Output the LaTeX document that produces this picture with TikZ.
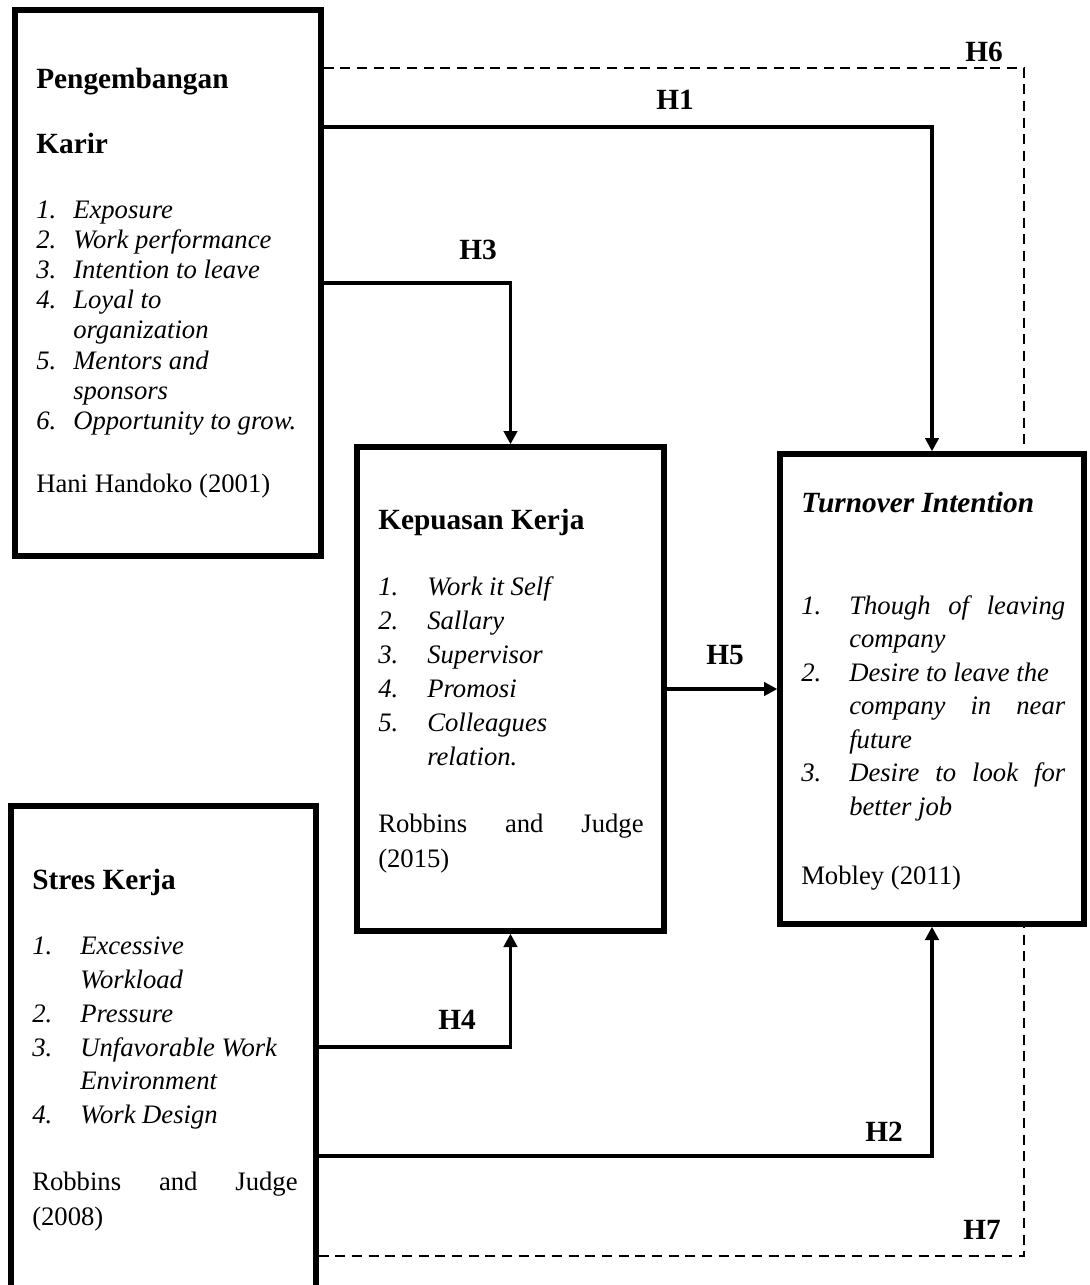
\documentclass[tikz,border=0pt]{standalone}
\usepackage{fontspec}
\setmainfont{Liberation Serif}
\usetikzlibrary{arrows.meta, positioning, calc}

% number box and hanging indent for the indicator lists
\newcommand{\itm}[2][36pt]{\makebox[#1][l]{#2}}
\newcommand{\cont}[1][36pt]{\hspace*{#1}}

\begin{document}
\begin{tikzpicture}[x=0.75pt, y=-0.75pt, >={Triangle[length=10pt, width=10pt]},
    frame/.style={draw, line width=4pt, inner sep=0pt},
    link/.style={line width=2.5pt},
    dashlink/.style={line width=1.9pt, dash pattern=on 7.5pt off 5pt},
    hyp/.style={inner sep=0pt, font=\fontsize{22pt}{26pt}\selectfont\bfseries},
    head/.style={anchor=north west, inner sep=0pt, align=left, font=\fontsize{22pt}{26pt}\selectfont\bfseries},
    items/.style={anchor=north west, inner sep=0pt, align=left, font=\fontsize{20pt}{#1}\selectfont\itshape},
    src/.style={anchor=north west, inner sep=0pt, align=left, font=\fontsize{20pt}{#1}\selectfont}
  ]
  \clip (0,0) rectangle (1089,1285);

  % variable boxes
  \node[frame, minimum width=229.5pt, minimum height=409.5pt] (kar) at (168,283) {};
  \node[frame, minimum width=230.25pt, minimum height=363pt] (kep) at (510.5,689) {};
  \node[frame, minimum width=228pt, minimum height=352.5pt] (tur) at (932,689) {};
  \node[frame, minimum width=228.75pt, minimum height=393pt] (str) at (163.5,1068) {};

  % Pengembangan Karir
  \node[head] (karHead) at (36,64) {\strut Pengembangan\\[22.4pt]Karir};
  \node[items=22.6pt] (karList) at (36,197) {\strut\itm[27.75pt]{1.}Exposure\\
    \itm[27.75pt]{2.}Work performance\\
    \itm[27.75pt]{3.}Intention to leave\\
    \itm[27.75pt]{4.}Loyal to\\
    \cont[27.75pt]organization\\
    \itm[27.75pt]{5.}Mentors and\\
    \cont[27.75pt]sponsors\\
    \itm[27.75pt]{6.}Opportunity to grow.};
  \node[src=22.6pt] (karRef) at (36,471) {\strut Hani Handoko (2001)};

  % Kepuasan Kerja
  \node[head] (kepHead) at (378,505) {\strut Kepuasan Kerja};
  \node[items=25.5pt] (kepList) at (378,571) {\strut\itm[36.75pt]{1.}Work it Self\\
    \itm[36.75pt]{2.}Sallary\\
    \itm[36.75pt]{3.}Supervisor\\
    \itm[36.75pt]{4.}Promosi\\
    \itm[36.75pt]{5.}Colleagues\\
    \cont[36.75pt]relation.};
  \node[src=26.25pt] (kepRef) at (378,807.5) {\strut\makebox[199pt][s]{Robbins and Judge}\\(2015)};

  % Turnover Intention
  \node[head] (turHead) at (801,488) {\strut\itshape Turnover Intention};
  \node[items=25.1pt] (turList) at (801,590.5) {\strut\itm{1.}\makebox[162pt][s]{Though of leaving}\\
    \cont company\\
    \itm{2.}Desire to leave the\\
    \cont\makebox[162pt][s]{company in near}\\
    \cont future\\
    \itm{3.}\makebox[162pt][s]{Desire to look for}\\
    \cont better job};
  \node[src=25.1pt] (turRef) at (801,860.5) {\strut Mobley (2011)};

  % Stres Kerja
  \node[head] (strHead) at (32,865) {\strut Stres Kerja};
  \node[items=25.3pt] (strList) at (32,931) {\strut\itm{1.}Excessive\\
    \cont Workload\\
    \itm{2.}Pressure\\
    \itm{3.}Unfavorable Work\\
    \cont Environment\\
    \itm{4.}Work Design};
  \node[src=26.25pt] (strRef) at (32,1165.5) {\strut\makebox[199pt][s]{Robbins and Judge}\\(2008)};

  % connector levels
  \coordinate (h6y) at (1024,68);
  \coordinate (h1y) at (0,127);
  \coordinate (h3y) at (0,283);
  \coordinate (h4y) at (0,1047);
  \coordinate (h2y) at (0,1156);
  \coordinate (h7y) at (1024,1256);

  \draw[dashlink] (kar.east |- h6y) -- (h6y) -- (h6y |- tur.north);
  \draw[link, ->] (kar.east |- h1y) -| (tur.north);
  \draw[link, ->] (kar.east |- h3y) -| (kep.north);
  \draw[link, ->] (kep.east) -- (tur.west);
  \draw[link, ->] (str.east |- h4y) -| (kep.south);
  \draw[link, ->] (str.east |- h2y) -| (tur.south);
  \draw[dashlink] (str.east |- h7y) -- (h7y) -- (h7y |- tur.south);

  \node[hyp] (lh6) at (984,52) {H6};
  \node[hyp] (lh1) at (675,100) {H1};
  \node[hyp] (lh3) at (478,250) {H3};
  \node[hyp] (lh5) at (725,655) {H5};
  \node[hyp] (lh4) at (457,1020) {H4};
  \node[hyp] (lh2) at (884,1132) {H2};
  \node[hyp] (lh7) at (982,1230) {H7};
\end{tikzpicture}
\end{document}
